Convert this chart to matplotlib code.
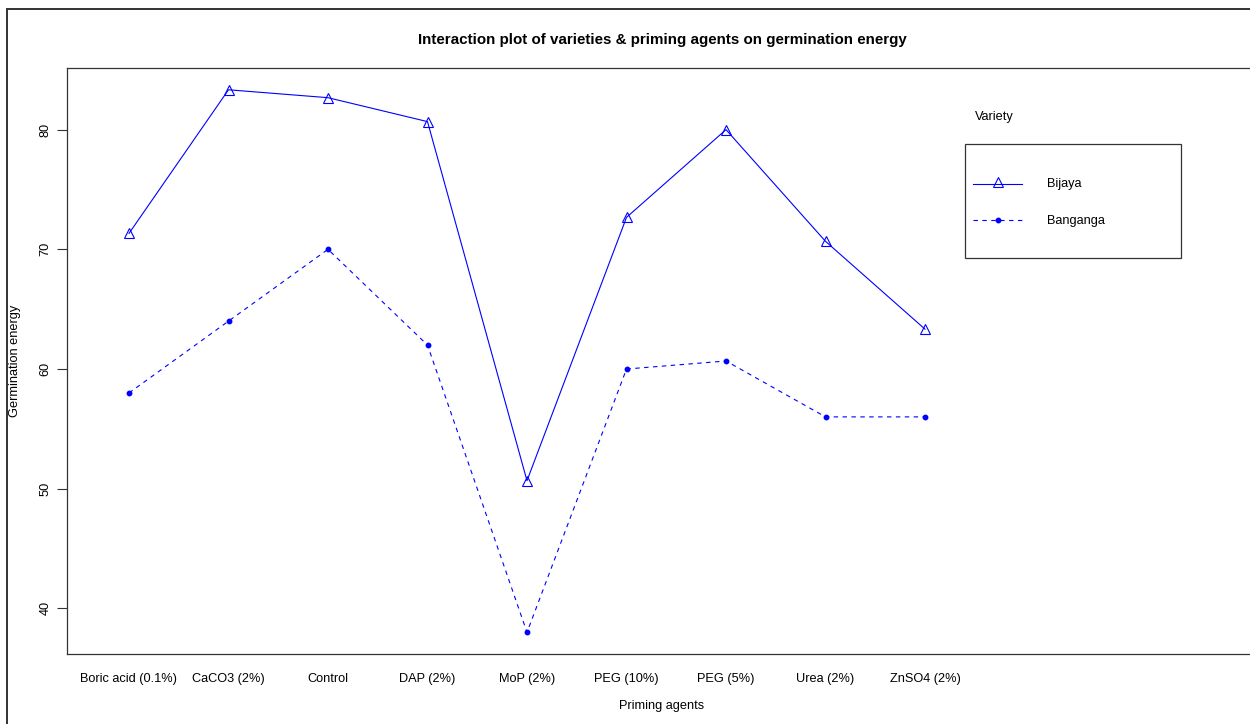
import matplotlib
matplotlib.use("Agg")
import matplotlib.pyplot as plt
from matplotlib.patches import Rectangle
from matplotlib.lines import Line2D

plt.rcParams['font.family'] = ['Liberation Sans', 'DejaVu Sans']

agents = ["Boric acid (0.1%)", "CaCO3 (2%)", "Control", "DAP (2%)", "MoP (2%)",
          "PEG (10%)", "PEG (5%)", "Urea (2%)", "ZnSO4 (2%)"]
bijaya = [71.33, 83.33, 82.67, 80.67, 50.67, 72.67, 80.0, 70.67, 63.33]
banganga = [58.0, 64.0, 70.0, 62.0, 38.0, 60.0, 60.67, 56.0, 56.0]
y_ticks = [40, 50, 60, 70, 80]

W, H = 1250, 724
BLUE = "#0000ff"
fig = plt.figure(figsize=(W / 100, H / 100), dpi=100)

# outer frame of the device region
fig.patches.append(Rectangle((7 / W, 0 - 0.05), 1.2, 1 - 9 / H + 0.05,
                             transform=fig.transFigure, fill=False,
                             edgecolor="#333333", linewidth=1.4))

left, right, top, bottom = 67, 1262, 68, 654
ax = fig.add_axes([left / W, 1 - bottom / H, (right - left) / W, (bottom - top) / H])

x = list(range(1, len(agents) + 1))
ax.plot(x, bijaya, color=BLUE, lw=0.8, marker="^", markersize=6.5,
        markerfacecolor="none", markeredgecolor=BLUE, markeredgewidth=0.8)
ax.plot(x, banganga, color=BLUE, lw=0.8, linestyle=(0, (4, 4)), marker="o",
        markersize=3.2, markerfacecolor=BLUE, markeredgecolor=BLUE)

px = 99.5
ax.set_xlim(1 - 62 / px, 1 + (right - 129) / px)
ax.set_ylim(36.19, 85.15)

ax.set_xticks(x)
ax.set_xticklabels(agents, fontsize=9.2)
ax.tick_params(axis="x", length=0, pad=14)
ax.set_yticks(y_ticks)
ax.set_yticklabels([str(v) for v in y_ticks], fontsize=9.2, rotation=90, va="center")
ax.tick_params(axis="y", length=7, width=0.8, pad=4, color="#333333")

for s in ax.spines.values():
    s.set_color("#333333")
    s.set_linewidth(0.9)

fig.text(662 / W, 1 - 40 / H, "Interaction plot of varieties & priming agents on germination energy",
         ha="center", va="center", fontsize=10.9, fontweight="bold")
fig.text(662 / W, 1 - 706 / H, "Priming agents", ha="center", va="center", fontsize=9.2)
fig.text(15 / W, 1 - 361 / H, "Germination energy", ha="center", va="center",
         fontsize=9.2, rotation=90)

# legend block
fig.text(975 / W, 1 - 117 / H, "Variety", ha="left", va="center", fontsize=9.2)
fig.patches.append(Rectangle((965 / W, 1 - 258 / H), 216 / W, 114 / H,
                             transform=fig.transFigure, fill=False,
                             edgecolor="#333333", linewidth=0.9))
fig.lines.append(Line2D([973 / W, 1022 / W], [1 - 183.5 / H] * 2, transform=fig.transFigure,
                        color=BLUE, lw=0.8))
fig.lines.append(Line2D([997.5 / W], [1 - 182 / H], transform=fig.transFigure,
                        marker="^", markersize=6.5, markerfacecolor="none", color=BLUE,
                        markeredgecolor=BLUE, markeredgewidth=0.8, linestyle="none"))
fig.lines.append(Line2D([973 / W, 1022 / W], [1 - 220.5 / H] * 2, transform=fig.transFigure,
                        color=BLUE, lw=0.8, linestyle=(0, (4, 4))))
fig.lines.append(Line2D([997.5 / W], [1 - 220.5 / H], transform=fig.transFigure,
                        marker="o", markersize=3.2, markerfacecolor=BLUE, color=BLUE,
                        markeredgecolor=BLUE, linestyle="none"))
fig.text(1047 / W, 1 - 184 / H, "Bijaya", ha="left", va="center", fontsize=9.2)
fig.text(1047 / W, 1 - 221 / H, "Banganga", ha="left", va="center", fontsize=9.2)

fig.savefig("out.png", dpi=100)
